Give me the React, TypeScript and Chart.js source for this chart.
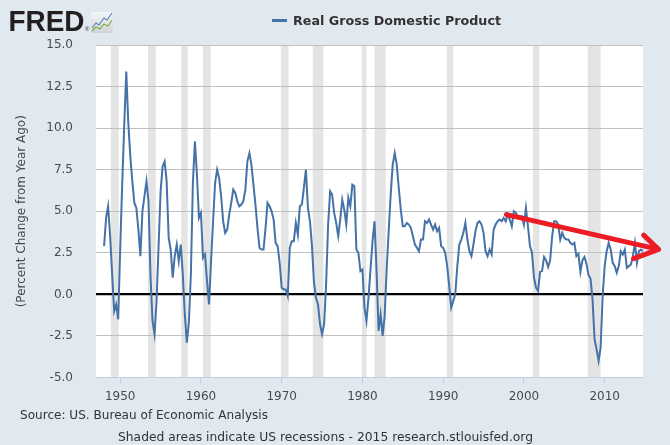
import React, { useEffect, useRef } from "react";
import { Chart, registerables } from "chart.js";

Chart.register(...registerables);

// ---- data ----
const firstYear = 1948;
const gdpChange = [
  2.9, 4.6, 5.3, 3.5, // 1948
  1.2, -1.0, -0.6, -1.5, // 1949
  2.8, 6.7, 10.2, 13.4, // 1950
  10.3, 8.3, 6.8, 5.5, // 1951
  5.2, 3.9, 2.3, 5.0, // 1952
  5.9, 6.8, 5.6, 1.1, // 1953
  -1.6, -2.4, -0.4, 2.9, // 1954
  6.2, 7.7, 8.0, 6.8, // 1955
  3.4, 2.7, 1.0, 2.3, // 1956
  3.0, 2.0, 3.0, 1.2, // 1957
  -1.2, -2.9, -1.7, 1.2, // 1958
  6.7, 9.2, 7.2, 4.6, // 1959
  4.9, 2.2, 2.4, 0.8, // 1960
  -0.6, 2.0, 4.4, 6.7, // 1961
  7.5, 7.0, 5.9, 4.4, // 1962
  3.7, 3.9, 4.8, 5.5, // 1963
  6.3, 6.1, 5.6, 5.3, // 1964
  5.4, 5.6, 6.3, 8.0, // 1965
  8.5, 7.8, 6.6, 5.4, // 1966
  4.0, 2.8, 2.7, 2.7, // 1967
  4.0, 5.5, 5.3, 5.0, // 1968
  4.5, 3.1, 2.9, 1.9, // 1969
  0.4, 0.3, 0.3, -0.1, // 1970
  2.8, 3.2, 3.2, 4.3, // 1971
  3.6, 5.3, 5.4, 6.4, // 1972
  7.5, 5.2, 4.4, 2.9, // 1973
  0.7, -0.2, -0.6, -1.8, // 1974
  -2.4, -1.8, 0.6, 4.2, // 1975
  6.2, 6.0, 4.9, 4.3, // 1976
  3.5, 4.5, 5.7, 5.1, // 1977
  4.2, 5.8, 5.3, 6.6, // 1978
  6.5, 2.7, 2.5, 1.4, // 1979
  1.5, -0.8, -1.6, -0.2, // 1980
  1.5, 3.2, 4.4, 1.4, // 1981
  -2.2, -1.2, -2.5, -1.3, // 1982
  1.5, 3.8, 6.0, 7.8, // 1983
  8.5, 7.8, 6.4, 5.1, // 1984
  4.1, 4.1, 4.3, 4.2, // 1985
  4.0, 3.5, 3.0, 2.8, // 1986
  2.6, 3.3, 3.3, 4.4, // 1987
  4.3, 4.5, 4.2, 3.9, // 1988
  4.2, 3.8, 4.0, 2.9, // 1989
  2.8, 2.5, 1.7, 0.5, // 1990
  -0.8, -0.4, 0.0, 1.7, // 1991
  3.0, 3.3, 3.7, 4.3, // 1992
  3.3, 2.6, 2.3, 3.0, // 1993
  3.8, 4.3, 4.4, 4.2, // 1994
  3.7, 2.6, 2.3, 2.7, // 1995
  2.4, 3.9, 4.2, 4.4, // 1996
  4.5, 4.4, 4.6, 4.4, // 1997
  4.8, 4.5, 4.1, 5.0, // 1998
  4.9, 4.7, 4.7, 4.7, // 1999
  4.2, 5.2, 4.1, 2.9, // 2000
  2.5, 1.0, 0.4, 0.2, // 2001
  1.35, 1.4, 2.25, 2.05, // 2002
  1.65, 2.05, 3.5, 4.4, // 2003
  4.4, 4.2, 3.3, 3.7, // 2004
  3.4, 3.3, 3.3, 3.1, // 2005
  3.0, 3.1, 2.3, 2.45, // 2006
  1.35, 2.05, 2.25, 1.85, // 2007
  1.15, 0.95, -0.3, -2.7, // 2008
  -3.3, -4.0, -3.2, -0.1, // 2009
  1.7, 2.6, 3.1, 2.7, // 2010
  1.9, 1.7, 1.3, 1.7, // 2011
  2.6, 2.4, 2.7, 1.6, // 2012
  1.7, 1.8, 2.3, 3.1, // 2013
  1.9, 2.6, 2.7, 2.6, // 2014
];

const recessionStarts = [1948.85, 1953.45, 1957.55, 1960.25, 1969.9, 1973.85, 1979.95, 1981.5, 1990.45, 2001.1, 2007.9];
const recessionEnds = [1949.8, 1954.4, 1958.35, 1961.2, 1970.85, 1975.17, 1980.5, 1982.88, 1991.25, 2001.92, 2009.5];

const xTickYears = [1950, 1960, 1970, 1980, 1990, 2000, 2010];
const yTickValues = [-5, -2.5, 0, 2.5, 5, 7.5, 10, 12.5, 15];

// annotation arrow (data units: [year, percent])
const arrowFrom = [1997.84, 4.8];
const arrowTo = [2016.68, 2.71];
const arrowHeadA = [2014.83, 3.56];
const arrowHeadB = [2013.59, 2.15];

const seriesLabel = "Real Gross Domestic Product";
const yTitle = "(Percent Change from Year Ago)";
const sourceText = "Source: US. Bureau of Economic Analysis";
const footerText = "Shaded areas indicate US recessions - 2015 research.stlouisfed.org";

function fitText(ctx: CanvasRenderingContext2D, text: string, x: number, y: number, width: number, font: string, color: string) {
  ctx.save();
  ctx.font = font;
  const w = ctx.measureText(text).width;
  ctx.translate(x, y);
  ctx.scale(width / w, 1);
  ctx.fillStyle = color;
  ctx.textAlign = "left";
  ctx.textBaseline = "alphabetic";
  ctx.fillText(text, 0, 0);
  ctx.restore();
}

const backdrop = {
  id: "backdrop",
  beforeDraw(chart: any) {
    const { ctx, chartArea: a, scales } = chart;
    const x = scales.x;
    ctx.save();
    ctx.fillStyle = "#ffffff";
    ctx.fillRect(a.left, a.top, a.right - a.left, a.bottom - a.top);
    ctx.fillStyle = "#e4e4e4";
    recessionStarts.forEach((s, k) => {
      const x0 = Math.max(a.left, x.getPixelForValue(s));
      const x1 = Math.min(a.right, x.getPixelForValue(recessionEnds[k]));
      ctx.fillRect(x0, a.top, x1 - x0, a.bottom - a.top);
    });
    ctx.restore();
  },
  afterDraw(chart: any) {
    const { ctx, scales } = chart;
    const x = scales.x;
    const y = scales.y;
    const px = (p: number[]) => [x.getPixelForValue(p[0]), y.getPixelForValue(p[1])];
    // arrow
    ctx.save();
    ctx.strokeStyle = "#ec1c24";
    ctx.lineWidth = 5;
    ctx.lineCap = "round";
    ctx.lineJoin = "round";
    const f = px(arrowFrom), t = px(arrowTo), ha = px(arrowHeadA), hb = px(arrowHeadB);
    ctx.beginPath();
    ctx.moveTo(f[0], f[1]);
    ctx.lineTo(t[0], t[1]);
    ctx.moveTo(ha[0], ha[1]);
    ctx.lineTo(t[0], t[1]);
    ctx.lineTo(hb[0], hb[1]);
    ctx.stroke();
    ctx.restore();

    // header: FRED logo
    fitText(ctx, "FRED", 8.5, 31, 76, 'bold 29px "Liberation Sans"', "#231f20");
    ctx.save();
    ctx.font = '6px "Liberation Sans"';
    ctx.fillStyle = "#231f20";
    ctx.fillText("®", 85, 31);
    const g = ctx.createLinearGradient(0, 12, 0, 33);
    g.addColorStop(0, "#f4f6f8");
    g.addColorStop(1, "#cfd5da");
    ctx.fillStyle = g;
    ctx.fillRect(91, 12, 22, 21);
    ctx.lineWidth = 1.2;
    ctx.strokeStyle = "#5b86b5";
    ctx.beginPath();
    ctx.moveTo(92, 28); ctx.lineTo(96, 23); ctx.lineTo(99, 25); ctx.lineTo(104, 18); ctx.lineTo(107, 20); ctx.lineTo(112, 13);
    ctx.stroke();
    ctx.strokeStyle = "#7fae3c";
    ctx.beginPath();
    ctx.moveTo(92, 31); ctx.lineTo(96, 27); ctx.lineTo(100, 29); ctx.lineTo(104, 24); ctx.lineTo(108, 26); ctx.lineTo(112, 20);
    ctx.stroke();
    ctx.restore();

    // legend
    ctx.save();
    ctx.strokeStyle = "#4572a7";
    ctx.lineWidth = 3;
    ctx.beginPath();
    ctx.moveTo(272, 20.5);
    ctx.lineTo(287, 20.5);
    ctx.stroke();
    ctx.restore();
    fitText(ctx, seriesLabel, 293, 25, 208, 'bold 13px "DejaVu Sans"', "#333333");

    // footer
    fitText(ctx, sourceText, 20, 419, 248, '13px "DejaVu Sans"', "#333333");
    fitText(ctx, footerText, 118, 441, 415, '13px "DejaVu Sans"', "#333333");
  },
};

export default function App() {
  const ref = useRef<HTMLCanvasElement | null>(null);

  useEffect(() => {
    if (!ref.current) return;
    const points = gdpChange.map((v, i) => ({ x: firstYear + i / 4, y: v }));
    const chart = new Chart(ref.current, {
      type: "line",
      data: {
        datasets: [
          {
            label: seriesLabel,
            data: points,
            borderColor: "#4572a7",
            borderWidth: 2,
            pointRadius: 0,
            tension: 0,
            fill: false,
          },
        ],
      },
      options: {
        responsive: false,
        animation: false,
        devicePixelRatio: 1,
        layout: { padding: { top: 45, right: 27, left: 0, bottom: 0 } },
        plugins: {
          legend: { display: false },
          tooltip: { enabled: false },
          title: { display: false },
        },
        scales: {
          x: {
            type: "linear",
            min: 1947,
            max: 2014.75,
            afterFit: (s: any) => { s.height = 67.5; },
            afterBuildTicks: (s: any) => { s.ticks = xTickYears.map((v) => ({ value: v })); },
            grid: { drawOnChartArea: false, drawTicks: true, tickLength: 6, color: "#c0d0e0" },
            border: { display: true, color: "#c0d0e0", width: 1 },
            ticks: {
              padding: 6,
              color: "#4a4a4a",
              font: { family: "DejaVu Sans", size: 12 },
              maxRotation: 0,
              callback: (v: any) => String(v),
            },
          },
          y: {
            min: -5,
            max: 15,
            afterFit: (s: any) => { s.width = 96; },
            afterBuildTicks: (s: any) => { s.ticks = yTickValues.map((v) => ({ value: v })); },
            grid: {
              drawTicks: false,
              color: (c: any) => (c.tick && c.tick.value === 0 ? "#000000" : c.tick && c.tick.value === -5 ? "#c0d0e0" : "#c0c0c0"),
              lineWidth: (c: any) => (c.tick && c.tick.value === 0 ? 2.2 : 1),
            },
            border: { display: false },
            ticks: {
              padding: 23,
              color: "#4a4a4a",
              font: { family: "DejaVu Sans", size: 12 },
              callback: (v: any) => Number(v).toFixed(1),
            },
            title: {
              display: true,
              text: yTitle,
              color: "#4a4a4a",
              font: { family: "DejaVu Sans", size: 12 },
              padding: { top: 15, bottom: 0 },
            },
          },
        },
      },
      plugins: [backdrop],
    });
    return () => chart.destroy();
  }, []);

  return (
    <div style={{ position: "fixed", left: 0, top: 0, width: 670, height: 445, background: "#e1e9f0" }}>
      <canvas ref={ref} width={670} height={445} style={{ display: "block", width: 670, height: 445 }} />
    </div>
  );
}
